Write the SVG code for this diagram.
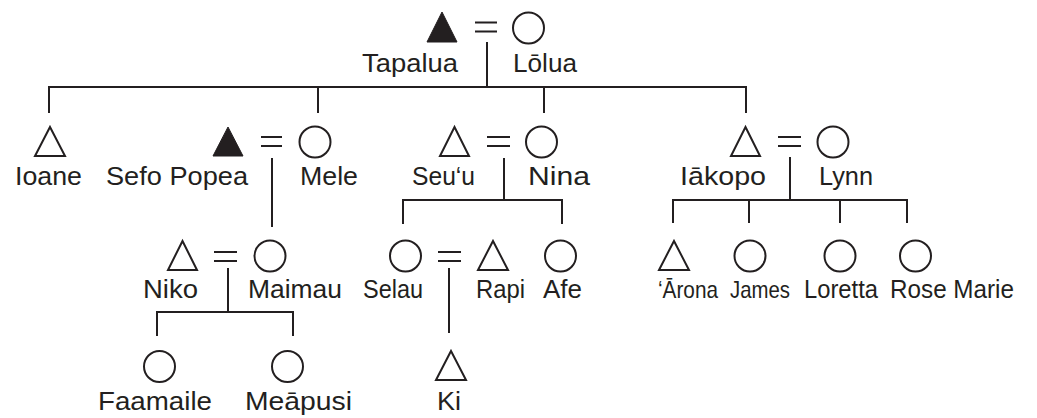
<svg xmlns="http://www.w3.org/2000/svg" width="1037" height="418" viewBox="0 0 1037 418">
<style>
.t{font-family:"Liberation Sans",Arial,sans-serif;font-size:26px;fill:#231f20;text-anchor:middle}
.sm{font-size:24px}
.s{fill:none;stroke:#231f20;stroke-width:2}
.f{fill:#231f20;stroke:#231f20;stroke-width:1}
.l{fill:none;stroke:#231f20;stroke-width:2}
</style>
<rect width="1037" height="418" fill="#fff"/>
<g id="connectors">
<path class="l" d="M475 22.5H497M475 31.5H497M487 42V87"/>
<path class="l" d="M49 87H746M49 86V113M318 86V113M544 86V113M746 86V113"/>
<path class="l" d="M261 137H282M261 146H282M272 158V227"/>
<path class="l" d="M487 137H510M487 146H510M504 158V200M403 200H562M403 199V224M562 199V224"/>
<path class="l" d="M778 137H801M778 146H801M790 157V200M673 200H907M673 199V223M749 199V223M840 199V223M907 199V223"/>
<path class="l" d="M214 252H237M214 261H237M228 268V312M157 312H293M157 311V336M293 311V336"/>
<path class="l" d="M438 252H461M438 261H461M449 268V333"/>
</g>
<g id="tapalua"><path class="f" d="M442 12L457 42H427Z"/><text class="t" x="410" y="72" textLength="96" lengthAdjust="spacingAndGlyphs">Tapalua</text></g>
<g id="lolua"><circle class="s" cx="528.5" cy="28" r="15.5"/><text class="t" x="545" y="72" textLength="64" lengthAdjust="spacingAndGlyphs">Lōlua</text></g>
<g id="ioane"><path class="s" d="M50 127L65 156H35Z"/><text class="t" x="48.5" y="185" textLength="67" lengthAdjust="spacingAndGlyphs">Ioane</text></g>
<g id="sefo"><path class="f" d="M228 127L243 156H213Z"/><text class="t" x="177" y="185" textLength="142" lengthAdjust="spacingAndGlyphs">Sefo Popea</text></g>
<g id="mele"><circle class="s" cx="315" cy="142" r="15.5"/><text class="t" x="329" y="185" textLength="58" lengthAdjust="spacingAndGlyphs">Mele</text></g>
<g id="seuu"><path class="s" d="M454.5 127L469 156H440Z"/><text class="t" x="443.5" y="185" textLength="63" lengthAdjust="spacingAndGlyphs">Seu‘u</text></g>
<g id="nina"><circle class="s" cx="541.5" cy="142" r="15.5"/><text class="t" x="559" y="185" textLength="62" lengthAdjust="spacingAndGlyphs">Nina</text></g>
<g id="iakopo"><path class="s" d="M745.5 127L760 156H731Z"/><text class="t" x="723" y="185" textLength="86" lengthAdjust="spacingAndGlyphs">Iākopo</text></g>
<g id="lynn"><circle class="s" cx="833" cy="142" r="15.5"/><text class="t" x="846" y="185" textLength="54" lengthAdjust="spacingAndGlyphs">Lynn</text></g>
<g id="niko"><path class="s" d="M182.5 241L197 270H168Z"/><text class="t" x="170.5" y="298" textLength="55" lengthAdjust="spacingAndGlyphs">Niko</text></g>
<g id="maimau"><circle class="s" cx="270" cy="256" r="15.5"/><text class="t" x="295" y="298" textLength="94" lengthAdjust="spacingAndGlyphs">Maimau</text></g>
<g id="selau"><circle class="s" cx="405.5" cy="256" r="15.5"/><text class="t" x="393" y="298" textLength="60" lengthAdjust="spacingAndGlyphs">Selau</text></g>
<g id="rapi"><path class="s" d="M493 241L508 270H478Z"/><text class="t" x="500.5" y="298" textLength="49" lengthAdjust="spacingAndGlyphs">Rapi</text></g>
<g id="afe"><circle class="s" cx="560.5" cy="256" r="15.5"/><text class="t" x="562.5" y="298" textLength="39" lengthAdjust="spacingAndGlyphs">Afe</text></g>
<g id="arona"><path class="s" d="M674 241L689 270H659Z"/><text class="t sm" x="688" y="298" textLength="60" lengthAdjust="spacingAndGlyphs">‘Ārona</text></g>
<g id="james"><circle class="s" cx="750" cy="256" r="15.5"/><text class="t sm" x="760" y="298" textLength="60" lengthAdjust="spacingAndGlyphs">James</text></g>
<g id="loretta"><circle class="s" cx="840" cy="256" r="15.5"/><text class="t" x="841" y="298" textLength="74" lengthAdjust="spacingAndGlyphs">Loretta</text></g>
<g id="rosemarie"><circle class="s" cx="915.5" cy="256" r="15.5"/><text class="t" x="952" y="298" textLength="124" lengthAdjust="spacingAndGlyphs">Rose Marie</text></g>
<g id="faamaile"><circle class="s" cx="159.5" cy="366.5" r="15.5"/><text class="t" x="155" y="410" textLength="114" lengthAdjust="spacingAndGlyphs">Faamaile</text></g>
<g id="meapusi"><circle class="s" cx="287.5" cy="366.5" r="15.5"/><text class="t" x="298.5" y="410" textLength="107" lengthAdjust="spacingAndGlyphs">Meāpusi</text></g>
<g id="ki"><path class="s" d="M451 351L466 380H436Z"/><text class="t" x="449" y="410" textLength="24" lengthAdjust="spacingAndGlyphs">Ki</text></g>
</svg>
